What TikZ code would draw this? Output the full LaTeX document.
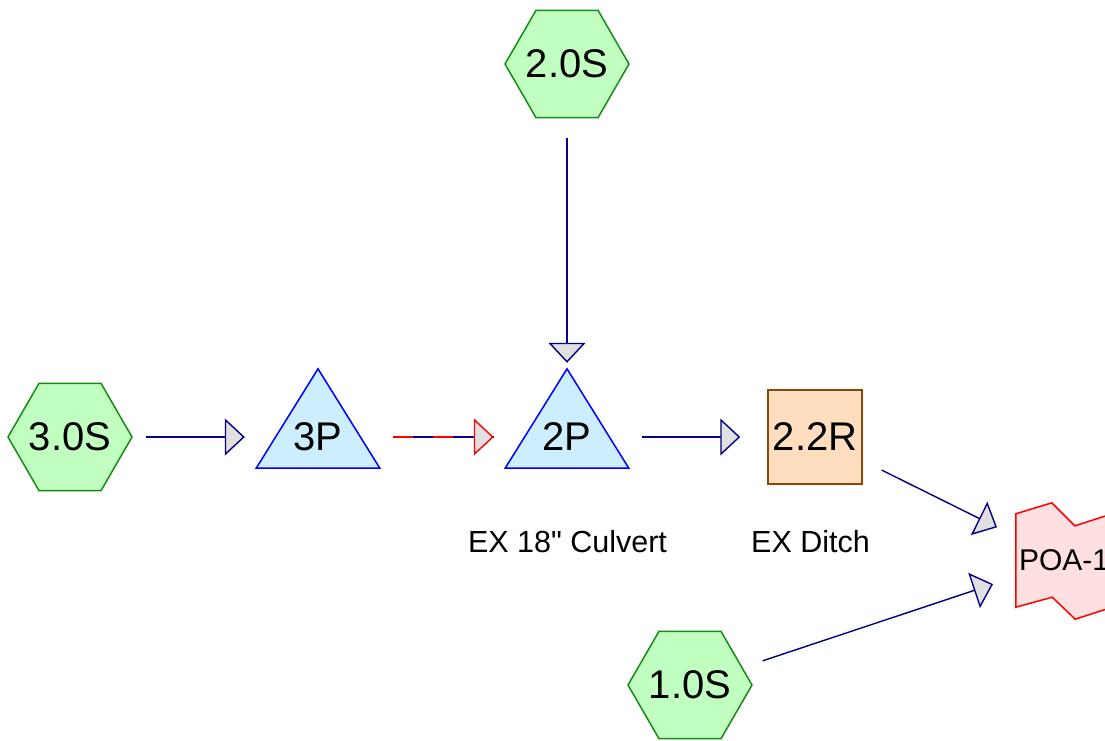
\documentclass[tikz,border=0pt]{standalone}
\usepackage{fontspec}
\setmainfont{Liberation Sans}[Ligatures=TeXOff]
\usetikzlibrary{shapes.geometric,arrows.meta,calc,backgrounds}
\definecolor{subcatfill}{RGB}{192,255,192}
\definecolor{subcatline}{RGB}{20,140,20}
\definecolor{pondfill}{RGB}{204,238,255}
\definecolor{pondline}{RGB}{0,0,255}
\definecolor{reachfill}{RGB}{255,222,192}
\definecolor{reachline}{RGB}{140,70,10}
\definecolor{poafill}{RGB}{255,224,224}
\definecolor{linkblue}{RGB}{0,0,128}
\definecolor{tipfill}{RGB}{224,224,224}
\tikzset{
    subcat/.style={draw=subcatline,fill=subcatfill,regular polygon,regular polygon sides=6,minimum size=124pt,inner sep=0pt,line width=1.5pt,
        label={[font=\fontsize{40}{48}\selectfont]center:#1}},
    pond/.style={minimum width=123pt,minimum height=136pt,inner sep=0pt,font=\fontsize{40}{48}\selectfont},
    pondtri/.style={draw=pondline,fill=pondfill,line width=1.5pt,line join=miter},
    reach/.style={draw=reachline,fill=reachfill,minimum size=94pt,inner sep=0pt,line width=1.5pt,font=\fontsize{40}{48}\selectfont},
    poa/.style={minimum width=96pt,minimum height=93pt,inner sep=0pt,font=\fontsize{30}{36}\selectfont},
    poaline/.style={draw=red,fill=poafill,line width=1.5pt},
    link/.style={draw=linkblue,line width=1.4pt,-{Triangle[length=20pt,width=37pt,fill=tipfill]}},
    lbl/.style={font=\fontsize{30.5}{36}\selectfont,anchor=base},
}
\begin{document}
\begin{tikzpicture}[x=1pt,y=-1pt]
    \useasboundingbox (0,0) rectangle (1105,740);

    \node[subcat=2.0S] (s2) at (567,64) {}; % subcatchments
    \node[subcat=3.0S] (s3) at (70,437) {};
    \node[subcat=1.0S] (s1) at (690,685) {};

    \node[pond] (p3) at (318,437) {3P}; % ponds
    \node[pond] (p2) at (567,437) {2P};
    \node[reach] (r22) at (815,437) {2.2R}; % reach
    \node[poa] (poa) at (1064,560.5) {POA-1}; % link

    \begin{scope}[on background layer]
        \draw[pondtri] (p3.north) -- ($(p3.east)+(0,31)$) -- ($(p3.west)+(0,31)$) -- cycle;
        \draw[pondtri] (p2.north) -- ($(p2.east)+(0,31)$) -- ($(p2.west)+(0,31)$) -- cycle;
        \draw[poaline] (poa.north west) -- ++(36,-11) -- ++(23,23) -- (poa.north east)
            -- (poa.south east) -- ++(-37,12) -- ++(-23,-22) -- (poa.south west) -- cycle;
    \end{scope}

    \node[lbl] (p2lbl) at (567.5,552) {EX 18" Culvert}; % labels
    \node[lbl] (r22lbl) at (810.5,552) {EX Ditch};

    \draw[link,shorten <=13pt,shorten >=11.5pt] (s3) -- (p3); % flows
    \draw[link,-,shorten <=13.5pt,shorten >=11.5pt] (p3) -- (p2);
    \draw[link,draw=red,dash pattern=on 20pt off 20pt,shorten <=13.5pt,shorten >=11.5pt] (p3) -- (p2);
    \draw[link,shorten <=20pt,shorten >=6pt] (s2) -- (p2);
    \draw[link,shorten <=13.5pt,shorten >=27pt] (p2) -- (r22);
    \draw[link,shorten <=21pt,shorten >=21pt] (r22) -- (poa);
    \draw[link,shorten <=21pt,shorten >=24pt] (s1) -- (poa);
\end{tikzpicture}
\end{document}
